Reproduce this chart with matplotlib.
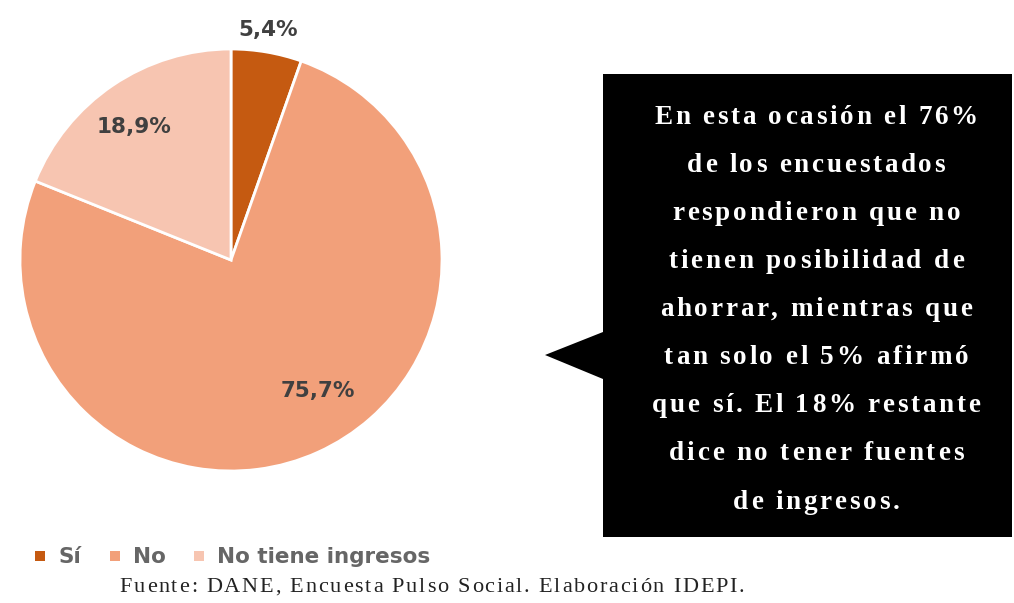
import matplotlib.pyplot as plt
from matplotlib.patches import Polygon
from matplotlib.textpath import TextToPath
from matplotlib.font_manager import FontProperties

categorias = ['Sí', 'No', 'No tiene ingresos']
valores = [5.4, 75.7, 18.9]
etiquetas = ['5,4%', '75,7%', '18,9%']
colores = ['#C55A11', '#F2A07A', '#F7C5B1']

texto_caja = ['En esta ocasión el 76%',
              'de los encuestados',
              'respondieron que no',
              'tienen posibilidad de',
              'ahorrar, mientras que',
              'tan solo el 5% afirmó',
              'que sí. El 18% restante',
              'dice no tener fuentes',
              'de ingresos.']
fuente = 'Fuente: DANE, Encuesta Pulso Social. Elaboración IDEPI.'

W, H = 1014, 603
fig = plt.figure(figsize=(W / 100, H / 100), dpi=100)
t2p = TextToPath()


def texto_espaciado(ax, xc, y, s, prop, extra, **kw):
    # dibuja letra por letra con espacio extra (px), centrado en xc
    anchos = []
    for ch in s:
        w, _, _ = t2p.get_text_width_height_descent(ch, prop, ismath=False)
        anchos.append(w * 100 / 72)
    total = sum(anchos) + extra * (len(s) - 1)
    x = xc - total / 2
    for ch, w in zip(s, anchos):
        ax.text(x, y, ch, ha='left', va='baseline', fontproperties=prop, **kw)
        x += w + extra


# pie, centro ~ (231, 260) px, radio ~ 211 px
cx, cy, r = 231, 260, 211
ax = fig.add_axes([(cx - r) / W, (H - cy - r) / H, 2 * r / W, 2 * r / H])
wedges, _ = ax.pie(valores, colors=colores, startangle=90, counterclock=False,
                   radius=1, wedgeprops=dict(edgecolor='white', linewidth=2))
ax.set_xlim(-1, 1)
ax.set_ylim(-1, 1)
ax.set_aspect('auto')
ax.axis('off')

# capa en pixeles para la caja y textos
ov = fig.add_axes([0, 0, 1, 1])
ov.set_xlim(0, W)
ov.set_ylim(H, 0)
ov.axis('off')
ov.patch.set_alpha(0)

# etiquetas de porcentaje (px)
pos_etq = [(268, 30), (318, 391), (134, 127)]
for (x, y), t in zip(pos_etq, etiquetas):
    ov.text(x, y, t, ha='center', va='center', fontsize=15.5, fontweight='bold',
            color='#404040')

caja = Polygon([(603, 74), (1012, 74), (1012, 537), (603, 537),
                (603, 379), (545, 355), (603, 332)],
               closed=True, facecolor='black', edgecolor='none')
ov.add_patch(caja)

prop_caja = FontProperties(family='Liberation Serif', weight='bold', size=19.5)
ys = [124, 172, 220, 268, 316, 364, 412, 460, 509]
for y, linea in zip(ys, texto_caja):
    texto_espaciado(ov, 816, y, linea, prop_caja, 2.8, color='white')

# leyenda
leg_x = [58, 133, 217]
for x, nombre, c in zip(leg_x, categorias, colores):
    ov.scatter([x - 18], [556], marker='s', s=55, color=c, linewidths=0)
    ov.text(x, 557, nombre, ha='left', va='center', fontsize=15.5,
            color='#666666', fontweight='bold')

prop_f = FontProperties(family='Liberation Serif', size=16)
texto_espaciado(ov, 432, 592, fuente, prop_f, 1.8, color='#222222')

fig.savefig('out.png', dpi=100)
